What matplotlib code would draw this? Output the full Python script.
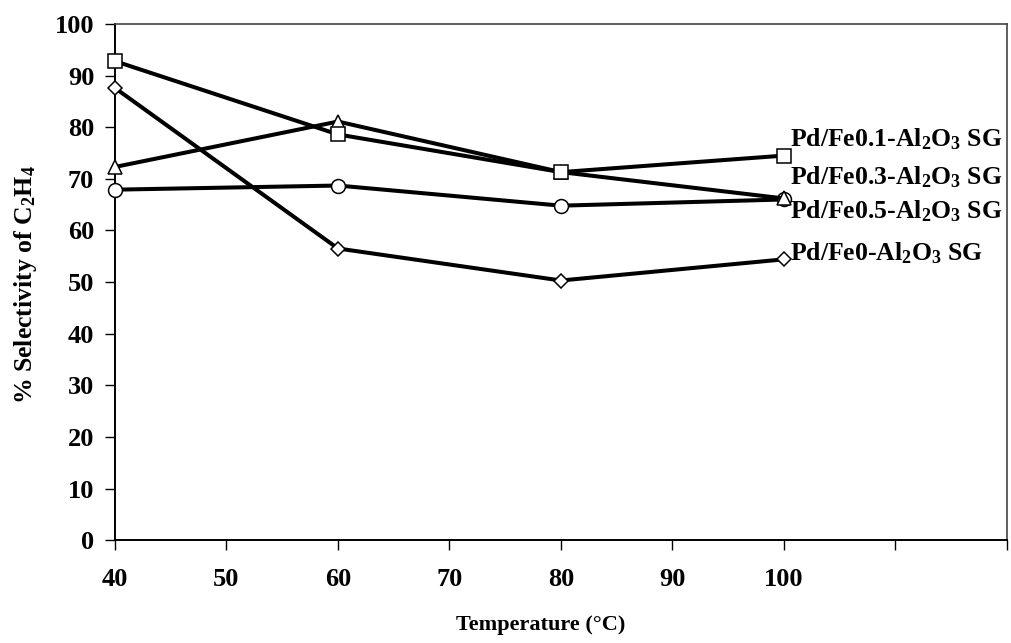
import matplotlib
matplotlib.use("Agg")
import matplotlib.pyplot as plt

plt.rcParams['font.family'] = ['Liberation Serif', 'DejaVu Serif']
plt.rcParams['font.weight'] = 'bold'
plt.rcParams['mathtext.fontset'] = 'custom'
plt.rcParams['mathtext.rm'] = 'Liberation Serif:bold'
plt.rcParams['mathtext.it'] = 'Liberation Serif:bold'
plt.rcParams['mathtext.bf'] = 'Liberation Serif:bold'

temperature = [40, 60, 80, 100]
fe01 = [92.8, 78.6, 71.3, 74.5]
fe03 = [72.3, 81.1, 71.3, 66.2]
fe05 = [67.9, 68.7, 64.8, 66.0]
fe0 = [87.6, 56.5, 50.3, 54.4]

names = [r"Pd/Fe0.1-Al$_2$O$_3$ SG", r"Pd/Fe0.3-Al$_2$O$_3$ SG",
         r"Pd/Fe0.5-Al$_2$O$_3$ SG", r"Pd/Fe0-Al$_2$O$_3$ SG"]
label_y = [77.6, 70.3, 63.8, 55.6]
series = [fe01, fe03, fe05, fe0]
markers = ["s", "^", "o", "D"]
msizes = [9.5, 10, 10, 7.5]

fig = plt.figure(figsize=(10.12, 6.43), dpi=100)
ax = fig.add_axes([0.1136, 0.160, 0.8814, 0.8027])

# draw in reverse so the square line sits on top
for vals, m, ms in reversed(list(zip(series, markers, msizes))):
    ax.plot(temperature, vals, color="black", lw=2.9, marker=m, ms=ms,
            mfc="white", mec="black", mew=1.1, zorder=3, clip_on=False)

for name, yv in zip(names, label_y):
    ax.text(100.5, yv, name, fontsize=18.5, fontweight="bold", va="center",
            ha="left", zorder=4, clip_on=False)

ax.set_xlim(40, 120)
ax.set_ylim(0, 100)
ax.set_xticks(range(40, 121, 10))
ax.set_xticklabels(["40", "50", "60", "70", "80", "90", "100", "", ""])
ax.set_yticks(range(0, 101, 10))

ax.tick_params(axis="both", direction="out", length=7, width=1, labelsize=19)
ax.tick_params(axis="x", pad=13)
ax.tick_params(axis="y", pad=8)

for side in ["left", "bottom"]:
    ax.spines[side].set_linewidth(1.4)
    ax.spines[side].set_color("black")
for side in ["top", "right"]:
    ax.spines[side].set_linewidth(1.2)
    ax.spines[side].set_color("#444444")

ax.set_xlabel("Temperature (°C)", fontsize=16, fontweight="bold")
ax.xaxis.set_label_coords(0.477, -0.145)
ax.set_ylabel(r"% Selectivity of C$_2$H$_4$", fontsize=18.5, fontweight="bold")
ax.yaxis.set_label_coords(-0.085, 0.495)

fig.savefig("out.png", dpi=100)
